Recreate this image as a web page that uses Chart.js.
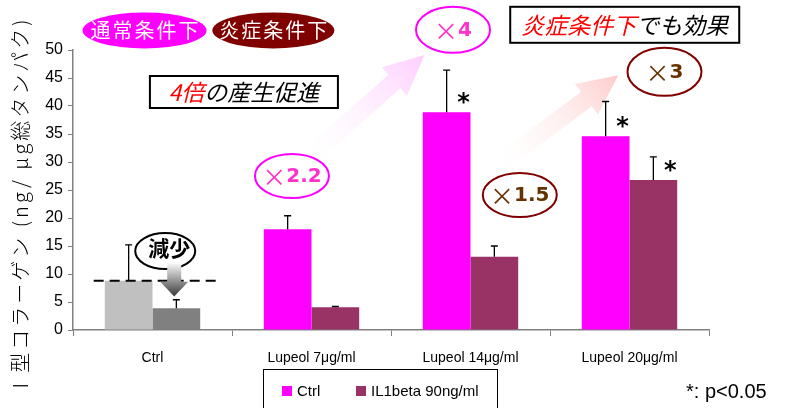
<!DOCTYPE html>
<html>
<head>
<meta charset="utf-8">
<script src="https://cdn.jsdelivr.net/npm/chart.js@4/dist/chart.umd.min.js"></script>
<style>
html, body { margin: 0; padding: 0; background: #fff; }
</style>
</head>
<body>
<canvas id="collagenChart" width="789" height="408"></canvas>
<script>
const categories = ['Ctrl', 'Lupeol 7μg/ml', 'Lupeol 14μg/ml', 'Lupeol 20μg/ml'];
const seriesNames = ['Ctrl', 'IL1beta 90ng/ml'];
const ctrlValues = [8.8, 18.0, 38.9, 34.6];
const ctrlErrors = [6.4, 2.4, 7.5, 6.2];
const il1Values = [3.9, 4.05, 13.1, 26.8];
const il1Errors = [1.5, 0.15, 1.9, 4.1];
const ctrlSignificant = [false, false, true, true];
const il1Significant = [false, false, false, true];
const yMax = 50;
const yStep = 5;

const pink = '#ff00ff';
const plum = '#993366';
const ctrlColors = ['#c0c0c0', pink, pink, pink];
const il1Colors = ['#808080', plum, plum, plum];

const jp = '"Noto Sans CJK JP", sans-serif';
const latin = '"Liberation Sans", Arial, sans-serif';

// helpers: category position (0..4 across the axis) and value -> pixels
function at(chart, cat, v) {
    const x = chart.scales.x, y = chart.scales.y;
    return [x.left + cat * (x.right - x.left) / categories.length, y.getPixelForValue(v)];
}

function y2px(chart, v) {
    return chart.scales.y.getPixelForValue(v);
}

function ellipse(ctx, cx, cy, rx, ry, fill, stroke) {
    ctx.beginPath();
    ctx.ellipse(cx, cy, rx, ry, 0, 0, Math.PI * 2);
    if (fill) { ctx.fillStyle = fill; ctx.fill(); }
    if (stroke) { ctx.strokeStyle = stroke; ctx.lineWidth = 2; ctx.stroke(); }
}

function fadedArrow(ctx, x0, y0, x1, y1, color) {
    const dx = x1 - x0, dy = y1 - y0;
    const len = Math.hypot(dx, dy);
    const ux = dx / len, uy = dy / len, nx = -uy, ny = ux;
    const head = 40, hw = 19, sw = 9;
    const bx = x1 - ux * head, by = y1 - uy * head;
    const g = ctx.createLinearGradient(x0, y0, x1, y1);
    g.addColorStop(0, 'rgba(255,255,255,0)');
    g.addColorStop(1, color);
    ctx.beginPath();
    ctx.moveTo(x0 + nx * sw, y0 + ny * sw);
    ctx.lineTo(bx + nx * sw, by + ny * sw);
    ctx.lineTo(bx + nx * hw, by + ny * hw);
    ctx.lineTo(x1, y1);
    ctx.lineTo(bx - nx * hw, by - ny * hw);
    ctx.lineTo(bx - nx * sw, by - ny * sw);
    ctx.lineTo(x0 - nx * sw, y0 - ny * sw);
    ctx.closePath();
    ctx.fillStyle = g;
    ctx.fill();
}

function timesLabel(ctx, cx, cy, num, color) {
    ctx.font = '24px ' + jp;
    const w1 = ctx.measureText('×').width;
    ctx.font = 'bold 20px "DejaVu Sans", sans-serif';
    const w2 = ctx.measureText(num).width;
    const start = cx - (w1 + w2) / 2;
    ctx.fillStyle = color;
    ctx.textAlign = 'left';
    ctx.textBaseline = 'middle';
    ctx.font = '24px ' + jp;
    ctx.fillText('×', start, cy + 1);
    ctx.font = 'bold 20px "DejaVu Sans", sans-serif';
    ctx.fillText(num, start + w1, cy + 1);
}

const arrowsPlugin = {
    id: 'arrows',
    beforeDatasetsDraw(chart) {
        const ctx = chart.ctx;
        ctx.save();
        let [a, b] = at(chart, 1.43, 29.5);
        let [c, d] = at(chart, 2.21, 49.1);
        fadedArrow(ctx, a, b, c, d, '#ffccff');
        [a, b] = at(chart, 2.63, 28.5);
        [c, d] = at(chart, 3.43, 45.5);
        fadedArrow(ctx, a, b, c, d, '#ffcccc');
        ctx.restore();
    }
};

const errorBarsPlugin = {
    id: 'errorBars',
    afterDatasetsDraw(chart) {
        const ctx = chart.ctx;
        const y = chart.scales.y;
        const sets = [[ctrlValues, ctrlErrors, ctrlSignificant], [il1Values, il1Errors, il1Significant]];
        ctx.save();
        ctx.strokeStyle = '#000';
        ctx.lineWidth = 1.3;
        sets.forEach(([vals, errs, sig], di) => {
            chart.getDatasetMeta(di).data.forEach((bar, i) => {
                const top = y.getPixelForValue(vals[i]);
                const end = y.getPixelForValue(vals[i] + errs[i]);
                ctx.beginPath();
                ctx.moveTo(bar.x, top);
                ctx.lineTo(bar.x, end);
                ctx.moveTo(bar.x - 3.5, end);
                ctx.lineTo(bar.x + 3.5, end);
                ctx.stroke();
                if (sig[i]) {
                    ctx.fillStyle = '#000';
                    ctx.font = 'bold 24px "DejaVu Sans", sans-serif';
                    ctx.textAlign = 'center';
                    ctx.textBaseline = 'middle';
                    ctx.fillText('*', bar.x + 17, top - 8);
                }
            });
        });
        ctx.restore();
    }
};

const calloutsPlugin = {
    id: 'callouts',
    afterDraw(chart) {
        const ctx = chart.ctx;
        ctx.save();

        // y axis title
        ctx.translate(20, 206);
        ctx.rotate(-Math.PI / 2);
        ctx.fillStyle = '#000';
        ctx.font = '300 20px ' + jp;
        ctx.letterSpacing = '3px';
        ctx.textAlign = 'center';
        ctx.textBaseline = 'middle';
        ctx.fillText('Ⅰ型コラーゲン (ng/ μg総タンパク)', 0, 0);
        ctx.setTransform(1, 0, 0, 1, 0, 0);
        ctx.scale(chart.currentDevicePixelRatio, chart.currentDevicePixelRatio);

        // condition badges
        ctx.letterSpacing = '2px';
        let [cx, cy] = at(chart, 0.45, 53.5);
        ellipse(ctx, cx, cy, 62, 18, pink, null);
        ctx.fillStyle = '#fff';
        ctx.font = '20px ' + jp;
        ctx.fillText('通常条件下', cx + 1, cy);
        [cx, cy] = at(chart, 1.26, 53.5);
        ellipse(ctx, cx, cy, 61, 18, '#800000', null);
        ctx.fillStyle = '#fff';
        ctx.fillText('炎症条件下', cx + 1, cy);
        ctx.letterSpacing = '0px';

        // boxed captions
        function caption(cat, v, w, h, red, black) {
            const [bx, by] = at(chart, cat, v);
            ctx.fillStyle = '#fff';
            ctx.fillRect(bx - w / 2, by - h / 2, w, h);
            ctx.strokeStyle = '#000';
            ctx.lineWidth = 2;
            ctx.strokeRect(bx - w / 2, by - h / 2, w, h);
            ctx.font = 'italic 23px ' + jp;
            const w1 = ctx.measureText(red).width, w2 = ctx.measureText(black).width;
            ctx.textAlign = 'left';
            ctx.fillStyle = '#ff0000';
            ctx.fillText(red, bx - (w1 + w2) / 2, by);
            ctx.fillStyle = '#000';
            ctx.fillText(black, bx - (w1 + w2) / 2 + w1, by);
            ctx.textAlign = 'center';
        }
        caption(1.075, 42.5, 188, 32, '4倍', 'の産生促進');
        caption(3.47, 54.5, 229, 36, '炎症条件下', 'でも効果');

        // fold-change ovals
        [cx, cy] = at(chart, 1.377, 27.5);
        ellipse(ctx, cx, cy, 37, 22, null, pink);
        timesLabel(ctx, cx, cy, '2.2', '#ff33cc');
        [cx, cy] = at(chart, 2.39, 53.6);
        ellipse(ctx, cx, cy, 37, 23, null, pink);
        timesLabel(ctx, cx, cy, '4', '#ff33cc');
        [cx, cy] = at(chart, 2.81, 24.1);
        ellipse(ctx, cx, cy, 37, 22, null, '#800000');
        timesLabel(ctx, cx, cy, '1.5', '#663300');
        [cx, cy] = at(chart, 3.72, 46.1);
        ellipse(ctx, cx, cy, 37, 24, null, '#800000');
        timesLabel(ctx, cx, cy, '3', '#663300');

        // baseline dashed line at ctrl level
        const [lx0, ly] = at(chart, 0.13, ctrlValues[0]);
        const [lx1] = at(chart, 0.9, ctrlValues[0]);
        ctx.setLineDash([10, 6]);
        ctx.strokeStyle = '#000';
        ctx.lineWidth = 2;
        ctx.beginPath();
        ctx.moveTo(lx0, ly);
        ctx.lineTo(lx1, ly);
        ctx.stroke();
        ctx.setLineDash([]);

        // "減少" label with down arrow
        [cx, cy] = at(chart, 0.58, 14.1);
        ellipse(ctx, cx, cy, 30, 18, '#fff', '#000');
        const ax = cx + 9;
        const aTop = cy + 11, aBase = y2px(chart, 8.6), aTip = y2px(chart, 6.0);
        const g = ctx.createLinearGradient(0, aTop, 0, aTip);
        g.addColorStop(0, '#ffffff');
        g.addColorStop(1, '#3a3a3a');
        ctx.fillStyle = g;
        ctx.beginPath();
        ctx.moveTo(ax - 7, aTop);
        ctx.lineTo(ax + 7, aTop);
        ctx.lineTo(ax + 7, aBase);
        ctx.lineTo(ax + 14, aBase);
        ctx.lineTo(ax, aTip);
        ctx.lineTo(ax - 14, aBase);
        ctx.lineTo(ax - 7, aBase);
        ctx.closePath();
        ctx.fill();
        ctx.fillStyle = '#000';
        ctx.font = 'bold 21px ' + jp;
        ctx.textAlign = 'center';
        ctx.fillText('減少', cx + 4, cy - 3);

        // legend
        ctx.strokeStyle = '#000';
        ctx.lineWidth = 1;
        ctx.strokeRect(263.5, 369.5, 234, 50);
        ctx.font = '15px ' + latin;
        ctx.textAlign = 'left';
        ctx.fillStyle = pink;
        ctx.fillRect(282, 386, 10, 10);
        ctx.fillStyle = '#000';
        ctx.fillText(seriesNames[0], 297, 392);
        ctx.fillStyle = plum;
        ctx.fillRect(356, 386, 10, 10);
        ctx.fillStyle = '#000';
        ctx.fillText(seriesNames[1], 371, 392);

        // significance note
        ctx.font = '20px ' + latin;
        ctx.fillText('*: p<0.05', 686, 392);
        ctx.restore();
    }
};

const yTickValues = [];
for (let v = 0; v <= yMax; v += yStep) yTickValues.push(v);

const data = {
    labels: categories,
    datasets: [{
        label: seriesNames[0],
        data: ctrlValues,
        backgroundColor: ctrlColors,
        borderWidth: 0
    }, {
        label: seriesNames[1],
        data: il1Values,
        backgroundColor: il1Colors,
        borderWidth: 0
    }]
};

const config = {
    type: 'bar',
    data: data,
    options: {
        responsive: false,
        animation: false,
        layout: { padding: { left: 0, right: 80, top: 50, bottom: 0 } },
        datasets: { bar: { categoryPercentage: 0.6, barPercentage: 1 } },
        plugins: { legend: { display: false }, tooltip: { enabled: false } },
        scales: {
            x: {
                grid: { drawOnChartArea: false, tickLength: 6, color: '#808080' },
                border: { color: '#808080', width: 1.5 },
                ticks: { color: '#000', font: { family: latin, size: 14 }, padding: 14 },
                afterFit(scale) { scale.height = 78; }
            },
            y: {
                min: 0,
                max: yMax,
                afterBuildTicks(scale) { scale.ticks = yTickValues.map(v => ({ value: v })); },
                grid: { drawOnChartArea: false, tickLength: 5, color: '#808080' },
                border: { color: '#808080', width: 1.5 },
                ticks: { color: '#000', font: { family: latin, size: 16 }, padding: 5 },
                afterFit(scale) { scale.width = 73; }
            }
        }
    },
    plugins: [arrowsPlugin, errorBarsPlugin, calloutsPlugin]
};

const myChart = new Chart(document.getElementById('collagenChart'), config);
</script>
</body>
</html>
